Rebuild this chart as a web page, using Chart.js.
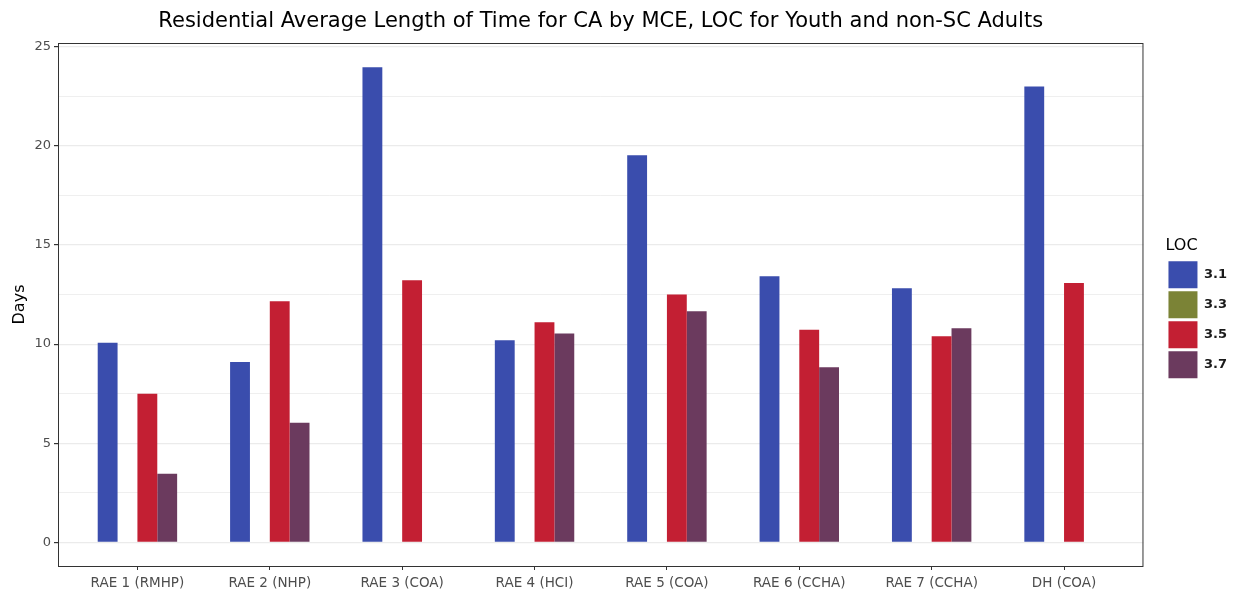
<!DOCTYPE html>
<html lang="en">
<head>
    <meta charset="UTF-8">
    <title>Residential Average Length of Time for CA by MCE, LOC</title>
    <script src="https://cdn.jsdelivr.net/npm/chart.js"></script>
    <style>
        html, body {
            margin: 0;
            padding: 0;
            background: #ffffff;
        }
        .chart-container {
            position: relative;
            width: 1241px;
            height: 595px;
        }
    </style>
</head>
<body>

<div class="chart-container">
    <canvas id="grafico"></canvas>
</div>

<script>
    const titulo = 'Residential Average Length of Time for CA by MCE, LOC for Youth and non-SC Adults';
    const categorias = ['RAE 1 (RMHP)', 'RAE 2 (NHP)', 'RAE 3 (COA)', 'RAE 4 (HCI)', 'RAE 5 (COA)', 'RAE 6 (CCHA)', 'RAE 7 (CCHA)', 'DH (COA)'];
    const niveis = ['3.1', '3.3', '3.5', '3.7'];
    const loc31 = [10.07, 9.1, 23.97, 10.2, 19.53, 13.42, 12.82, 23.0];
    const loc33 = [null, null, null, null, null, null, null, null];
    const loc35 = [7.5, 12.16, 13.22, 11.11, 12.5, 10.72, 10.4, 13.09];
    const loc37 = [3.46, 6.03, null, 10.54, 11.66, 8.83, 10.8, null];
    const yTicks = [0, 2.5, 5, 7.5, 10, 12.5, 15, 17.5, 20, 22.5, 25];

    const cores = ['#3a4dad', '#7b8336', '#c31f33', '#6b3a5e'];
    const series = [loc31, loc33, loc35, loc37];
    const fonte = "'DejaVu Sans', sans-serif";

    // painel com borda e titulo centrado sobre a area do grafico
    const painel = {
        id: 'painel',
        afterDraw(chart) {
            const {ctx, chartArea} = chart;
            ctx.save();
            ctx.strokeStyle = '#333333';
            ctx.lineWidth = 1;
            ctx.strokeRect(chartArea.left + 0.5, chartArea.top + 0.5,
                chartArea.right - chartArea.left - 1, chartArea.bottom - chartArea.top);
            ctx.fillStyle = '#000000';
            ctx.font = '21px ' + fonte;
            ctx.textAlign = 'center';
            ctx.textBaseline = 'middle';
            ctx.fillText(titulo, (chartArea.left + chartArea.right) / 2, 22);
            ctx.restore();
        }
    };

    const ctx = document.getElementById('grafico').getContext('2d');
    new Chart(ctx, {
        type: 'bar',
        data: {
            datasets: series.map((valores, k) => ({
                label: niveis[k],
                data: valores.map((v, i) => ({x: i, y: v})),
                backgroundColor: cores[k],
                borderWidth: 0,
                categoryPercentage: 0.6,
                barPercentage: 1.0
            }))
        },
        options: {
            responsive: true,
            maintainAspectRatio: false,
            animation: false,
            layout: {
                padding: {top: 43, right: 4, bottom: 0, left: 0}
            },
            plugins: {
                title: {display: false},
                tooltip: {enabled: false},
                legend: {
                    position: 'right',
                    align: 'start',
                    title: {
                        display: true,
                        text: 'LOC',
                        position: 'start',
                        color: '#000000',
                        font: {family: fonte, size: 16},
                        padding: {top: 195, bottom: 1}
                    },
                    labels: {
                        boxWidth: 29,
                        boxHeight: 27,
                        padding: 3,
                        color: '#1a1a1a',
                        font: {family: fonte, size: 13, weight: 'bold'}
                    }
                }
            },
            scales: {
                x: {
                    type: 'linear',
                    min: -0.6,
                    max: 7.6,
                    offset: false,
                    afterBuildTicks: (scale) => {
                        scale.ticks = categorias.map((c, i) => ({value: i}));
                    },
                    afterFit: (scale) => {
                        scale.height = 29;
                    },
                    ticks: {
                        color: '#4d4d4d',
                        font: {family: fonte, size: 13.5},
                        padding: 5,
                        maxRotation: 0,
                        autoSkip: false,
                        callback: (v) => categorias[v]
                    },
                    grid: {
                        offset: false,
                        drawOnChartArea: false,
                        color: '#333333',
                        tickLength: 4
                    },
                    border: {display: false}
                },
                y: {
                    min: -1.2,
                    max: 25.2,
                    afterBuildTicks: (scale) => {
                        scale.ticks = yTicks.map(v => ({value: v}));
                    },
                    afterFit: (scale) => {
                        scale.width = 58;
                    },
                    ticks: {
                        color: '#4d4d4d',
                        font: {family: fonte, size: 13},
                        padding: 3,
                        callback: (v) => (v % 5 === 0 ? v : '')
                    },
                    grid: {
                        color: '#ebebeb',
                        lineWidth: (c) => (c.tick && c.tick.value % 5 === 0 ? 1.2 : 0.8),
                        tickColor: (c) => (c.tick && c.tick.value % 5 === 0 ? '#333333' : 'rgba(0,0,0,0)'),
                        tickLength: 4
                    },
                    border: {display: false},
                    title: {
                        display: true,
                        text: 'Days',
                        color: '#000000',
                        font: {family: fonte, size: 16},
                        padding: {top: 10, bottom: 4}
                    }
                },
                // eixo vazio so para abrir espaco entre o painel e a legenda
                espaco: {
                    position: 'right',
                    display: true,
                    afterFit: (scale) => {
                        scale.width = 22;
                    },
                    ticks: {display: false},
                    grid: {display: false},
                    border: {display: false}
                }
            }
        },
        plugins: [painel]
    });
</script>

</body>
</html>
